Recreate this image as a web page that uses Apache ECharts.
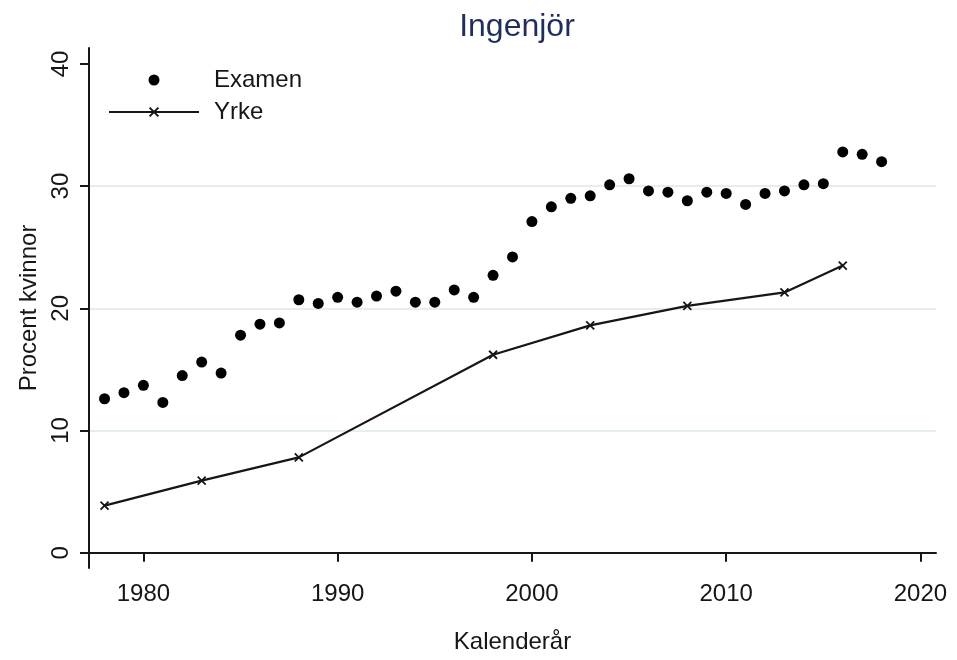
<!DOCTYPE html>
<html>
<head>
<meta charset="utf-8">
<title>Ingenjör</title>
<script src="https://cdn.jsdelivr.net/npm/echarts@6/dist/echarts.min.js"></script>
<style>
  html, body { margin: 0; padding: 0; background: #fff; }
  #chart { width: 957px; height: 660px; }
</style>
</head>
<body>
<div id="chart"></div>
<script>
// Examen: yearly share of women among engineering degrees
const examenYears = [1978, 1979, 1980, 1981, 1982, 1983, 1984, 1985, 1986, 1987,
  1988, 1989, 1990, 1991, 1992, 1993, 1994, 1995, 1996, 1997,
  1998, 1999, 2000, 2001, 2002, 2003, 2004, 2005, 2006, 2007,
  2008, 2009, 2010, 2011, 2012, 2013, 2014, 2015, 2016, 2017, 2018]
const examenValues = [12.6, 13.1, 13.7, 12.3, 14.5, 15.6, 14.7, 17.8, 18.7, 18.8,
  20.7, 20.4, 20.9, 20.5, 21.0, 21.4, 20.5, 20.5, 21.5, 20.9,
  22.7, 24.2, 27.1, 28.3, 29.0, 29.2, 30.1, 30.6, 29.6, 29.5,
  28.8, 29.5, 29.4, 28.5, 29.4, 29.6, 30.1, 30.2, 32.8, 32.6, 32.0]

// Yrke: share of women in the occupation
const yrkeYears = [1978, 1983, 1988, 1998, 2003, 2008, 2013, 2016]
const yrkeValues = [3.85, 5.9, 7.8, 16.2, 18.6, 20.2, 21.3, 23.5]

const xTicks = [1980, 1990, 2000, 2010, 2020]
const yTicks = [0, 10, 20, 30, 40]
const yGridLines = [0, 10, 20, 30]

const font = '"Liberation Sans", Arial, Helvetica, sans-serif'
const ink = '#161616'

const chart = echarts.init(document.getElementById('chart'))

const option = {
  backgroundColor: '#fff',
  animation: false,
  textStyle: { fontFamily: font },
  title: {
    text: 'Ingenjör',
    left: 512,
    textAlign: 'center',
    top: 6,
    textStyle: { fontFamily: font, fontSize: 32, fontWeight: 'normal', color: '#1f2e5c' }
  },
  legend: {
    orient: 'vertical',
    left: 103,
    top: 63,
    itemWidth: 90,
    itemHeight: 11,
    itemGap: 8,
    data: ['Examen', 'Yrke'],
    textStyle: { fontFamily: font, fontSize: 24, color: ink, padding: [0, 0, 0, 10] }
  },
  grid: { left: 89, right: 21, top: 48, bottom: 92 },
  xAxis: {
    type: 'value',
    min: 1977.2,
    max: 2020.8,
    name: 'Kalenderår',
    nameLocation: 'middle',
    nameGap: 62,
    nameTextStyle: { fontFamily: font, fontSize: 24, color: ink },
    axisLine: { show: true, lineStyle: { color: ink, width: 2 } },
    axisTick: { show: true, length: 9, lineStyle: { color: ink, width: 2 }, customValues: xTicks },
    axisLabel: {
      fontFamily: font, fontSize: 24, color: ink, margin: 14, customValues: xTicks,
      formatter: v => String(v)
    },
    splitLine: { show: false }
  },
  yAxis: [
    {
      type: 'value',
      min: -1.25,
      max: 41.3,
      name: 'Procent kvinnor',
      nameLocation: 'middle',
      nameRotate: 90,
      nameGap: 45,
      nameTextStyle: { fontFamily: font, fontSize: 24, color: ink },
      axisLine: { show: true, lineStyle: { color: ink, width: 2 } },
      axisTick: { show: true, length: 9, lineStyle: { color: ink, width: 2 }, customValues: yTicks },
      axisLabel: { fontFamily: font, fontSize: 24, color: ink, rotate: 90, margin: 16, customValues: yTicks },
      splitLine: { show: false }
    },
    {
      // only draws the light horizontal grid lines
      type: 'value',
      min: -1.25,
      max: 41.3,
      position: 'left',
      axisLine: { show: false },
      axisTick: { show: true, length: 0, lineStyle: { color: 'rgba(0,0,0,0)' }, customValues: yGridLines },
      axisLabel: { show: false, customValues: yGridLines },
      splitLine: { show: true, customValues: yGridLines, lineStyle: { color: '#e4eef1', width: 2 } }
    }
  ],
  series: [
    {
      name: 'Examen',
      type: 'scatter',
      data: examenYears.map((y, i) => [y, examenValues[i]]),
      symbol: 'circle',
      symbolSize: 11,
      itemStyle: { color: '#000', opacity: 1 },
      z: 3
    },
    {
      name: 'Yrke',
      type: 'line',
      data: yrkeYears.map((y, i) => [y, yrkeValues[i]]),
      symbol: 'path://M0,0L10,10M0,10L10,0',
      symbolSize: 8,
      itemStyle: { color: ink, borderColor: ink, borderWidth: 1.8 },
      lineStyle: { color: ink, width: 2.2 },
      z: 2
    }
  ]
}

chart.setOption(option)
</script>
</body>
</html>
